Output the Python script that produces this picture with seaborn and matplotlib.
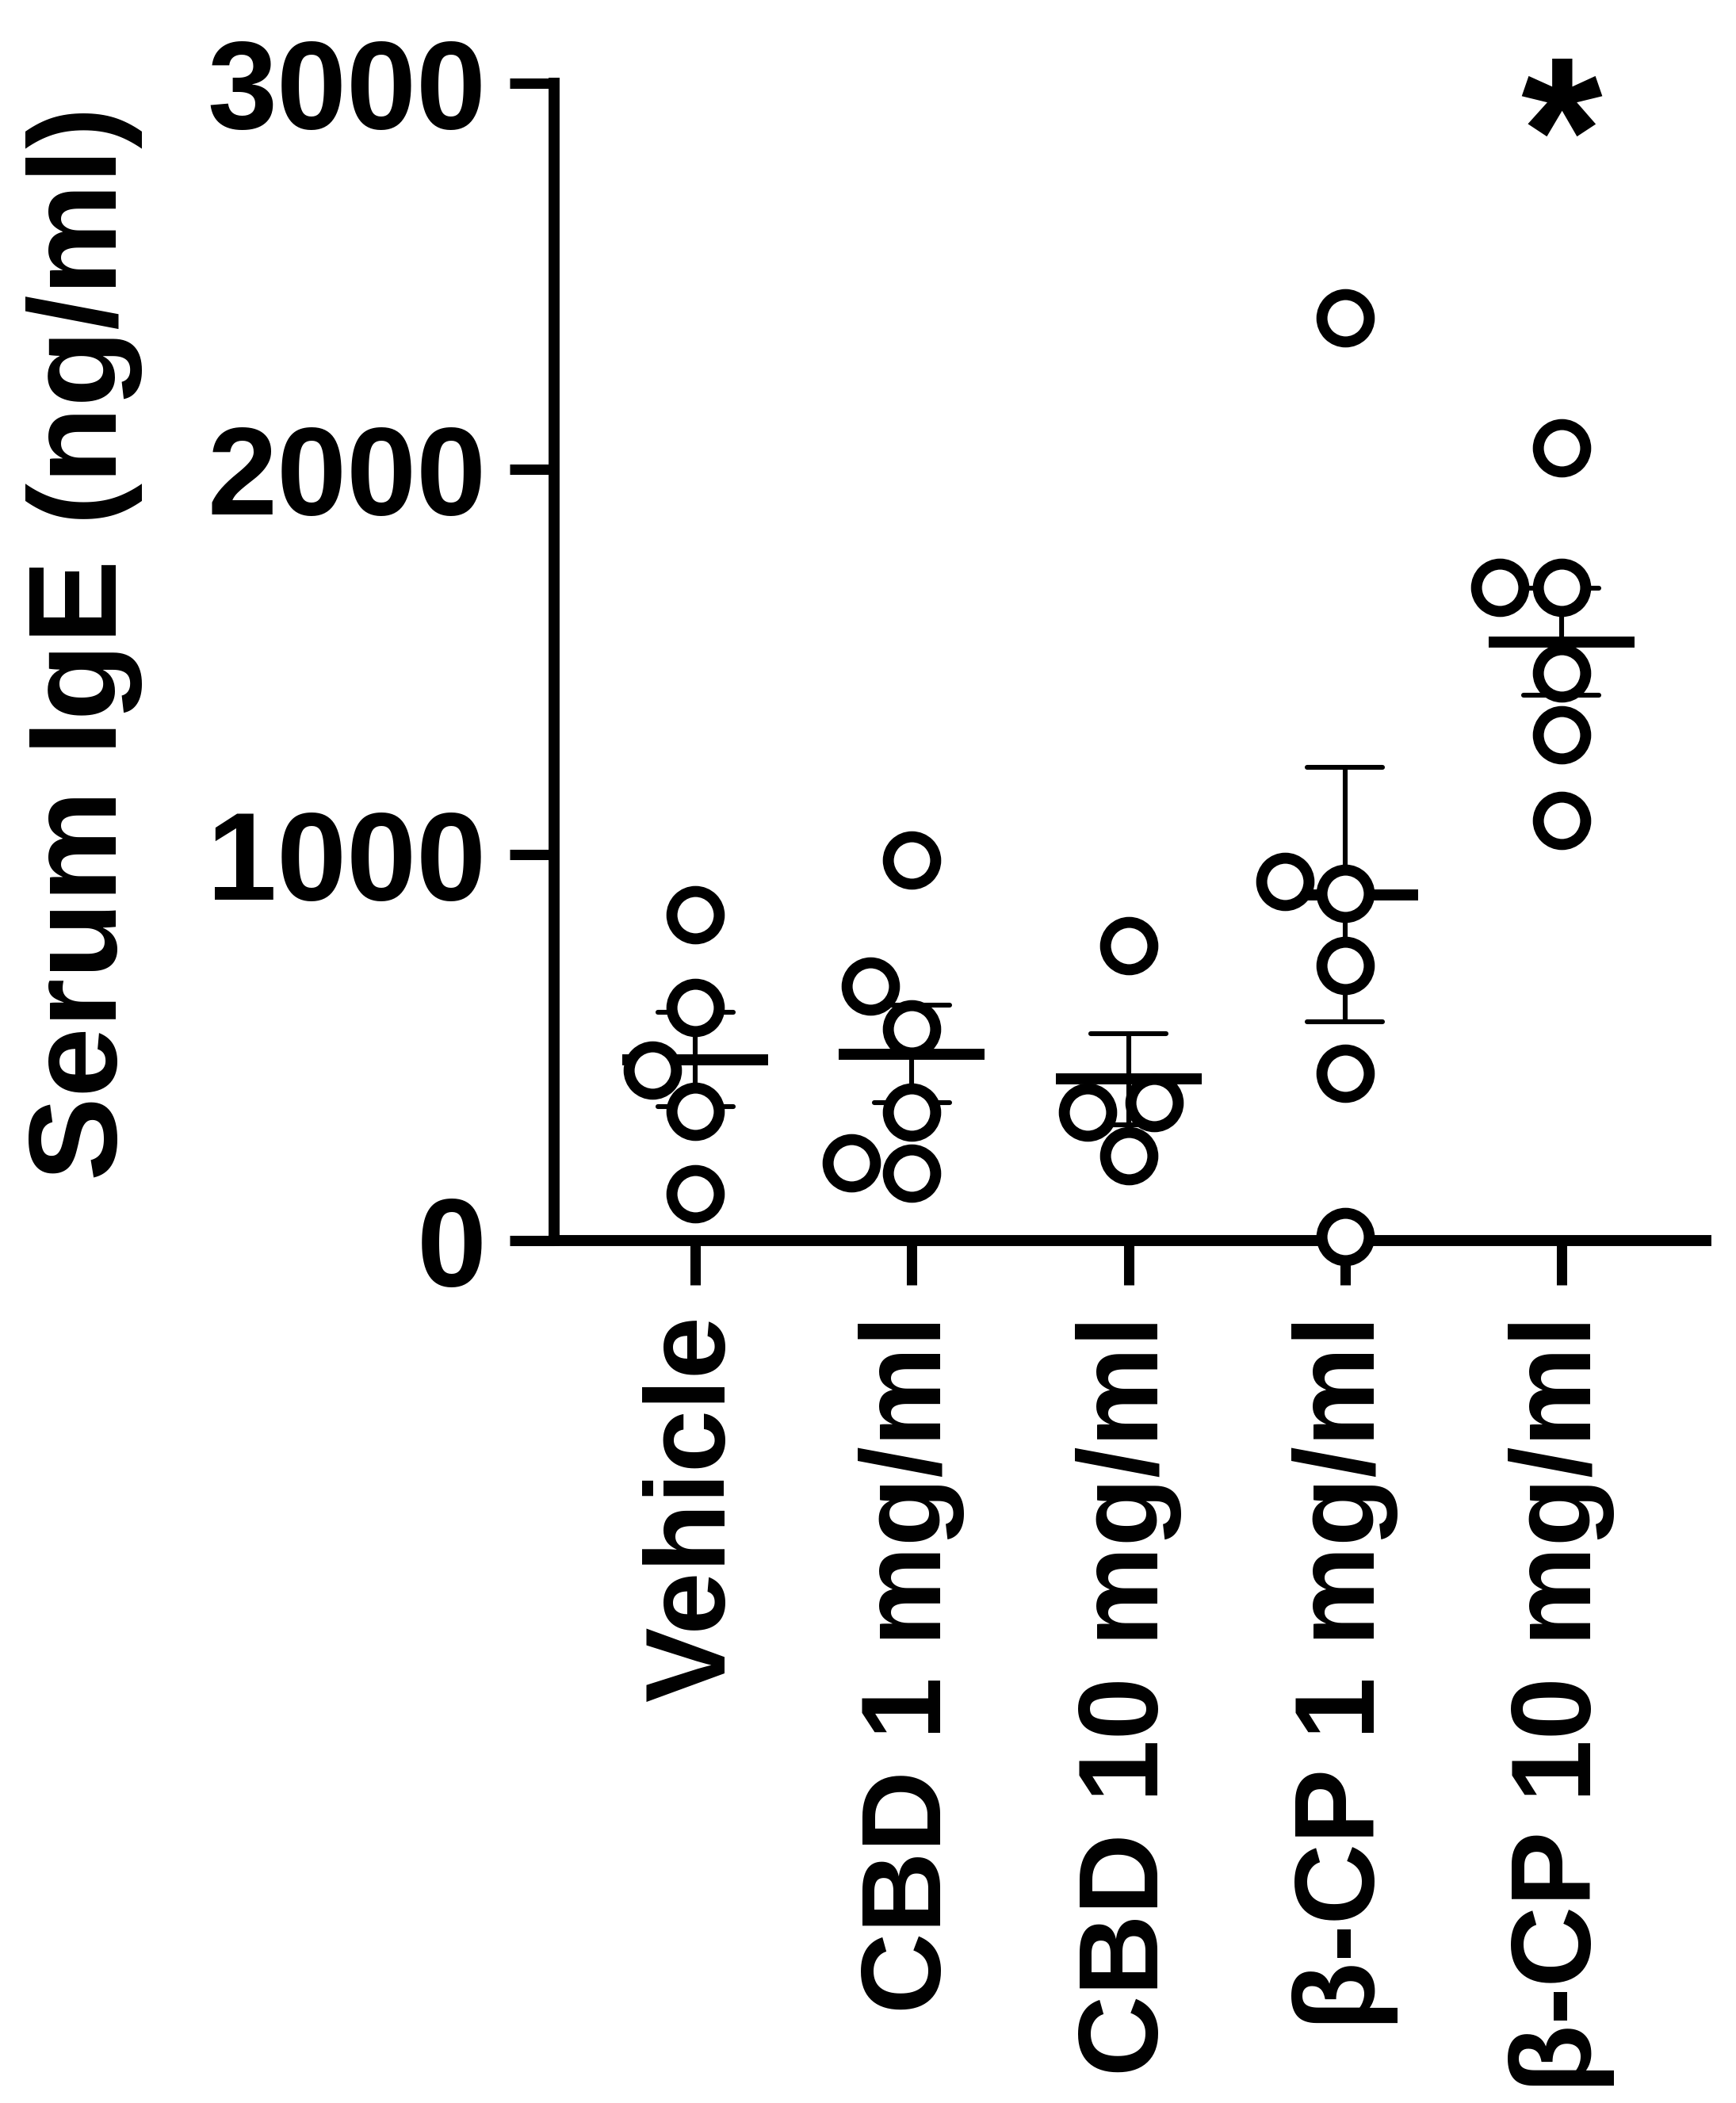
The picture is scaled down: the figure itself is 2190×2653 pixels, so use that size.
import numpy as np
import pandas as pd
import seaborn as sns
import matplotlib.pyplot as plt

# groups and the single animal values
groups = ['Vehicle', 'CBD 1 mg/ml', 'CBD 10 mg/ml', 'β-CP 1 mg/ml', 'β-CP 10 mg/ml']
vehicle = [845, 604, 442, 334, 121]
cbd_1 = [986, 660, 549, 332, 201, 175]
cbd_10 = [764, 357, 332, 220]
bcp_1 = [2391, 931, 900, 713, 434, 10]
bcp_10 = [2055, 1693, 1693, 1472, 1310, 1090]
y_ticks = [0, 1000, 2000, 3000]
star_group = 'β-CP 10 mg/ml'

values = [vehicle, cbd_1, cbd_10, bcp_1, bcp_10]
df = pd.DataFrame({
    'group': np.repeat(groups, [len(v) for v in values]),
    'IgE': np.concatenate(values),
})

sns.set_style('ticks')
plt.rcParams['font.family'] = ['Liberation Sans', 'DejaVu Sans']
plt.rcParams['font.weight'] = 'bold'
for key in ['text.color', 'axes.labelcolor', 'xtick.color', 'ytick.color', 'axes.edgecolor']:
    plt.rcParams[key] = 'black'

fig = plt.figure(figsize=(10.95, 13.265), dpi=200)
ax = fig.add_axes([0.3192, 0.4101, 0.6635, 0.5503])

# individual animals
sns.swarmplot(data=df, x='group', y='IgE', order=groups, ax=ax,
              size=21.5, color='white', edgecolor='black', linewidth=5)

# mean +/- SEM
sns.pointplot(data=df, x='group', y='IgE', order=groups, ax=ax,
              errorbar='se', capsize=0.35, linestyle='none', color='black',
              marker='_', markersize=66, markeredgewidth=5,
              err_kws={'linewidth': 2.2})

for c in ax.collections:
    c.set_clip_on(False)

ax.set_ylim(0, 3000)
ax.set_xlim(-0.653, 4.668)
ax.set_yticks(y_ticks)
ax.set_xlabel('')
ax.set_ylabel('Serum IgE (ng/ml)', fontsize=57, fontweight='bold')
ax.yaxis.set_label_coords(-0.357, 0.516)

ax.tick_params(axis='both', length=20, width=4.7, color='black')
ax.tick_params(axis='y', labelsize=57, pad=10.8)
ax.tick_params(axis='x', labelsize=51, pad=14)
plt.setp(ax.get_xticklabels(), rotation=90, ha='center', va='top', fontweight='bold')
plt.setp(ax.get_yticklabels(), fontweight='bold')

sns.despine(ax=ax)
for side in ['left', 'bottom']:
    ax.spines[side].set_linewidth(5)
    ax.spines[side].set_color('black')

ax.text(groups.index(star_group), 2690, '*', ha='center', va='baseline',
        fontsize=95, fontweight='bold', clip_on=False)

fig.savefig('out.png', dpi=200, facecolor='white')
